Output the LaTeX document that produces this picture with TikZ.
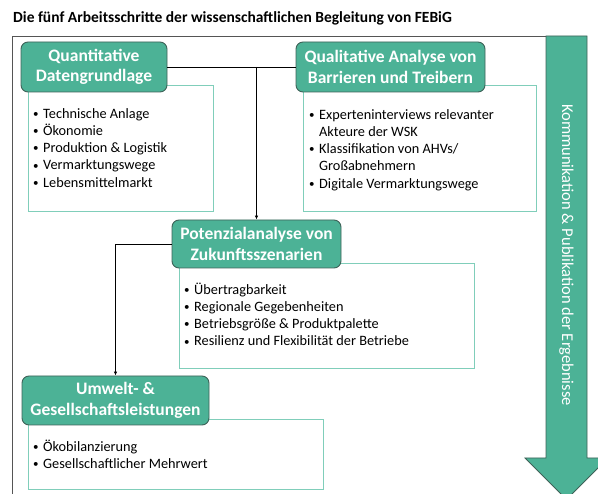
\documentclass[tikz,border=0pt]{standalone}
\usepackage{fontspec}
\setmainfont{Carlito}
\usetikzlibrary{arrows.meta}
\definecolor{febig}{RGB}{76,178,150}
\definecolor{febigdark}{RGB}{62,98,88}
\definecolor{febiglight}{RGB}{128,206,186}
\definecolor{framegray}{RGB}{85,85,85}
\tikzset{
  head/.style={rounded corners=7pt, fill=febig, draw=febigdark, line width=0.9pt,
    text=white, font=\fontsize{17.5}{20.5}\selectfont\bfseries, align=center, inner sep=0pt},
  listbox/.style={draw=febiglight, line width=1pt, fill=white, anchor=north west, inner sep=0pt},
  listtext/.style={anchor=north west, inner sep=0pt, font=\fontsize{14.3}{17.2}\selectfont},
  link/.style={black, line width=0.8pt},
}
\newcommand{\punkte}[1]{\begin{tabular}{@{}p{10pt}@{}l@{}}#1\end{tabular}}
\newcommand{\pkt}{{\fontsize{11}{11}\selectfont\raisebox{0.8pt}{\textbullet}}}

\begin{document}
\begin{tikzpicture}[x=1pt, y=-1pt]
\useasboundingbox (0,0) rectangle (598,494);
% Title
    \node[anchor=west, inner sep=0pt, font=\fontsize{15.5}{18}\selectfont\bfseries] (titel) at (13,18)
      {Die fünf Arbeitsschritte der wissenschaftlichen Begleitung von FEBiG};
% Frame
    \draw[framegray, line width=0.8pt] (12.5,494) -- (12.5,36) -- (546,36);
% Arrow on the right
    \draw[fill=febig, draw=febigdark, line width=0.8pt]
      (546,36) -- (587,36) -- (587,458) -- (608,458) -- (566.5,499.5)
      -- (525,458) -- (546,458) -- cycle;
    \node[rotate=-90, text=white, inner sep=0pt, font=\fontsize{16.5}{18}\selectfont] (komm) at (566.5,255)
      {Kommunikation \& Publikation der Ergebnisse};
% Lists
    \node[listbox, minimum width=185pt, minimum height=126pt] (quantbox) at (28,85) {};
    \node[listbox, minimum width=233pt, minimum height=126pt] (qualbox) at (303,85) {};
    \node[listbox, minimum width=295pt, minimum height=105pt] (potbox) at (179,263) {};
    \node[listbox, minimum width=295pt, minimum height=70pt] (umwbox) at (28,419) {};
    \node[listtext] (quanttext) at (33,106) {\punkte{
      \pkt & Technische Anlage\\
      \pkt & Ökonomie\\
      \pkt & Produktion \& Logistik\\
      \pkt & Vermarktungswege\\
      \pkt & Lebensmittelmarkt}};
    \node[listtext] (qualtext) at (309,107) {\punkte{
      \pkt & Experteninterviews relevanter\\
      & Akteure der WSK\\
      \pkt & Klassifikation von AHVs/\\
      & Großabnehmern\\
      \pkt & Digitale Vermarktungswege}};
    \node[listtext] (pottext) at (184,282) {\punkte{
      \pkt & Übertragbarkeit\\
      \pkt & Regionale Gegebenheiten\\
      \pkt & Betriebsgröße \& Produktpalette\\
      \pkt & Resilienz und Flexibilität der Betriebe}};
    \node[listtext] (umwtext) at (33,439) {\punkte{
      \pkt & Ökobilanzierung\\
      \pkt & Gesellschaftlicher Mehrwert}};
% Headers
    \node[head, minimum width=146pt, minimum height=50pt] (quant) at (94,67) {Quantitative\\Datengrundlage};
    \node[head, minimum width=189pt, minimum height=50pt] (qual) at (390.5,67) {Qualitative Analyse von\\Barrieren und Treibern};
    \node[head, minimum width=169pt, minimum height=48pt] (pot) at (256.5,244) {Potenzialanalyse von\\Zukunftsszenarien};
    \node[head, minimum width=187pt, minimum height=49pt] (umw) at (115.5,400.5) {Umwelt- \&\\Gesellschaftsleistungen};
% Connectors
    \draw[link] (quant.east) -- (qual.west);
    \draw[link, -{Latex[length=4pt, width=3.5pt]}] (quant.east -| pot.north) -- (pot.north);
    \draw[link, -{Latex[length=4pt, width=3.5pt]}] (pot.west) -| (umw.north);
\end{tikzpicture}
\end{document}
